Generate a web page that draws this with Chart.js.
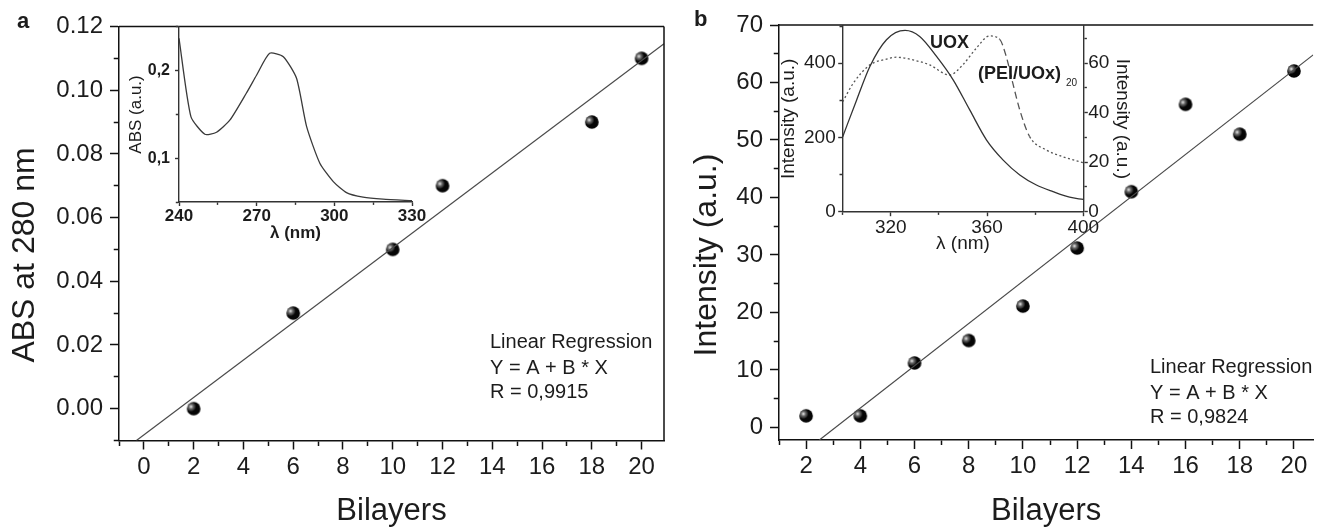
<!DOCTYPE html>
<html>
<head>
<meta charset="utf-8">
<title>UOX bilayers</title>
<script src="https://cdn.jsdelivr.net/npm/chart.js@4.4.0/dist/chart.umd.min.js"></script>
<style>
  html, body { margin: 0; padding: 0; background: #fff; overflow: hidden; }
  #wrap { position: relative; width: 1321px; height: 528px; }
  #wrap canvas { position: absolute; left: 0; top: 0; }
</style>
</head>
<body>
<div id="wrap">
  <canvas id="mainA" width="1321" height="528"></canvas>
  <canvas id="insetA" width="1321" height="528"></canvas>
  <canvas id="mainB" width="1321" height="528"></canvas>
  <canvas id="insetB" width="1321" height="528"></canvas>
</div>
<script>
// ---- panel a : ABS at 280 nm vs bilayers
const bilayersA = [2, 6, 10, 12, 18, 20];
const absA = [0.000, 0.030, 0.050, 0.070, 0.090, 0.110];
const fitAx = [-0.3, 20.9];
const fitAy = [-0.010, 0.1146];
const xLabelsA = [0, 2, 4, 6, 8, 10, 12, 14, 16, 18, 20];
const yLabelsA = [0.00, 0.02, 0.04, 0.06, 0.08, 0.10, 0.12];

// inset a : absorption spectrum
const lambdaA = [240, 244.6, 250, 254.5, 259.7, 266, 270, 275, 280.3, 285.4, 289.3, 294.4, 299.6, 304.7, 311.1, 318.8, 330];
const specA = [0.237, 0.1475, 0.1274, 0.1297, 0.1437, 0.1742, 0.1951, 0.2199, 0.216, 0.1913, 0.1361, 0.0943, 0.0733, 0.0607, 0.0555, 0.0532, 0.0516];
const insetAxLabels = [240, 270, 300, 330];
const insetAyLabels = [0.1, 0.2];

// ---- panel b : intensity vs bilayers
const bilayersB = [2, 4, 6, 8, 10, 12, 14, 16, 18, 20];
const intB = [2.0, 2.0, 11.2, 15.1, 21.1, 31.2, 41.0, 56.2, 51.0, 62.0];
const fitBx = [2.49, 20.71];
const fitBy = [-2.2, 64.8];
const xLabelsB = [2, 4, 6, 8, 10, 12, 14, 16, 18, 20];
const yLabelsB = [0, 10, 20, 30, 40, 50, 60, 70];

// inset b : emission spectra
const lambdaUox = [300, 305.8, 311.3, 318.2, 325.9, 332, 339, 345.9, 352.8, 359.8, 366.7, 373.6, 380.5, 387.4, 394.3, 400];
const uox = [202, 301, 391, 463, 488, 472, 418, 355, 274, 193, 139, 99, 72, 54, 39, 33];
const lambdaPei = [300, 304.4, 311.3, 318.2, 322.3, 329.2, 336.1, 344.4, 349.9, 355.5, 361, 365.2, 368, 370.7, 373.6, 377.7, 384.7, 391.5, 400];
const pei = [44.4, 51.9, 59.3, 61.6, 62.4, 61.3, 59.3, 55.2, 59.3, 66, 71, 69.7, 62.6, 51.9, 41.1, 30.3, 24.9, 22.2, 19.8];
const insetBxLabels = [320, 360, 400];
const insetByLabels = [0, 200, 400];
const insetBy2Labels = [0, 20, 40, 60];

const FONT = '"Liberation Sans", Arial, Helvetica, sans-serif';
const INK = '#1c1c1c';

function pts(xs, ys) {
  return xs.map((x, i) => ({ x: x, y: ys[i] }));
}
function has(list, v) {
  return list.some(t => Math.abs(t - v) < 1e-9);
}

// black shaded ball used as marker
function makeBall(r) {
  const c = document.createElement('canvas');
  c.width = c.height = Math.ceil(2 * r + 2);
  const g = c.getContext('2d');
  const m = c.width / 2;
  g.beginPath();
  g.arc(m, m, r, 0, Math.PI * 2);
  g.fillStyle = '#050505';
  g.fill();
  const hx = m - r * 0.4, hy = m - r * 0.3;
  const grad = g.createRadialGradient(hx, hy, 0, hx, hy, r * 0.75);
  grad.addColorStop(0, 'rgba(255,255,255,0.95)');
  grad.addColorStop(0.5, 'rgba(200,200,200,0.45)');
  grad.addColorStop(1, 'rgba(255,255,255,0)');
  g.beginPath();
  g.arc(m, m, r, 0, Math.PI * 2);
  g.fillStyle = grad;
  g.fill();
  return c;
}
const ball = makeBall(6.8);

// minor ticks are drawn shorter through a dash pattern
function tickDash(side, tl, minor, axisW) {
  if (side === 'left') return [0, Math.max(tl - axisW / 2 - minor, 0), minor, 0];
  return [minor, 100];
}

function linearAxis(o) {
  return {
    type: 'linear',
    position: o.position,
    min: o.min,
    max: o.max,
    afterFit: s => {
      if (o.position === 'left' || o.position === 'right') s.width = o.size;
      else s.height = o.size;
    },
    ticks: {
      stepSize: o.step,
      autoSkip: false,
      maxRotation: 0,
      includeBounds: false,
      padding: o.pad,
      color: INK,
      font: { family: FONT, size: o.fontSize, weight: o.bold ? 'bold' : 'normal' },
      callback: v => has(o.labels, v) ? o.fmt(v) : ''
    },
    grid: {
      drawOnChartArea: false,
      tickLength: o.tl,
      tickWidth: o.axisW,
      tickColor: o.color,
      tickBorderDash: c => (c.tick && has(o.labels.concat(o.majors || []), c.tick.value)) ? [] : tickDash(o.position, o.tl, o.minor, o.axisW)
    },
    border: { color: o.color, width: o.axisW },
    title: o.title ? {
      display: true,
      text: o.title,
      color: INK,
      font: { family: FONT, size: o.titleSize, weight: o.titleBold ? 'bold' : 'normal', lineHeight: 1 },
      padding: o.titlePad
    } : { display: false }
  };
}

const framePlugin = {
  id: 'frame',
  afterDraw(chart, args, opts) {
    if (!opts.show) return;
    const ctx = chart.ctx;
    const a = chart.chartArea;
    ctx.save();
    ctx.strokeStyle = '#111';
    ctx.lineWidth = 1.5;
    ctx.beginPath();
    ctx.moveTo(a.left, a.top);
    ctx.lineTo(a.right, a.top);
    if (opts.right) {
      ctx.moveTo(a.right, a.top);
      ctx.lineTo(a.right, a.bottom);
    }
    ctx.stroke();
    ctx.restore();
  }
};

const notesPlugin = {
  id: 'notes',
  afterDraw(chart, args, opts) {
    const ctx = chart.ctx;
    (opts.items || []).forEach(n => {
      ctx.save();
      ctx.font = n.font;
      ctx.fillStyle = INK;
      ctx.textAlign = n.align || 'left';
      ctx.textBaseline = n.baseline || 'alphabetic';
      ctx.translate(n.x, n.y);
      if (n.rotate) ctx.rotate(n.rotate);
      ctx.fillText(n.text, 0, 0);
      ctx.restore();
    });
  }
};

const common = {
  responsive: false,
  animation: false,
  events: [],
  plugins: { legend: { display: false }, tooltip: { enabled: false } }
};

// ---------- main chart a
new Chart(document.getElementById('mainA'), {
  type: 'scatter',
  data: {
    datasets: [
      { data: pts(fitAx, fitAy), showLine: true, borderColor: '#4a4a4a', borderWidth: 1.2, pointRadius: 0 },
      { data: pts(bilayersA, absA), pointStyle: ball, pointRadius: 6.8 }
    ]
  },
  options: {
    ...common,
    layout: { padding: { left: 0, top: 26.5, right: 657, bottom: 0 } },
    plugins: {
      ...common.plugins,
      frame: { show: true, right: true },
      notes: { items: [
        { text: 'a', x: 17, y: 28, font: 'bold 22px ' + FONT },
        { text: 'ABS at 280 nm', x: 25, y: 255, font: '32px ' + FONT, align: 'center', baseline: 'middle', rotate: -Math.PI / 2 },
        { text: 'Linear Regression', x: 490, y: 348.3, font: '20px ' + FONT },
        { text: 'Y = A + B * X', x: 490, y: 374, font: '20px ' + FONT },
        { text: 'R = 0,9915', x: 490, y: 398.3, font: '20px ' + FONT }
      ] }
    },
    scales: {
      x: linearAxis({ position: 'bottom', min: -1, max: 20.9, step: 1, size: 87.5, pad: 3, fontSize: 24, labels: xLabelsA,
        fmt: v => String(v), tl: 9, minor: 4.5, axisW: 1.5, color: '#111',
        title: 'Bilayers', titleSize: 31, titlePad: { top: 0, bottom: 1.5 } }),
      y: linearAxis({ position: 'left', min: -0.01, max: 0.12, step: 0.01, size: 119, pad: 7, fontSize: 24, labels: yLabelsA,
        fmt: v => v.toFixed(2), tl: 9, minor: 4.5, axisW: 1.5, color: '#111' })
    }
  },
  plugins: [framePlugin, notesPlugin]
});

// ---------- inset a
new Chart(document.getElementById('insetA'), {
  type: 'scatter',
  data: {
    datasets: [
      { data: pts(lambdaA, specA), showLine: true, borderColor: '#3a3a3a', borderWidth: 1.3, pointRadius: 0, tension: 0.2 }
    ]
  },
  options: {
    ...common,
    layout: { padding: { left: 119, top: 26.9, right: 909, bottom: 286 } },
    scales: {
      x: linearAxis({ position: 'bottom', min: 240, max: 330, step: 15, size: 40, pad: 0, fontSize: 17, bold: true, labels: insetAxLabels,
        fmt: v => String(v), tl: 4, minor: 2.5, axisW: 1.4, color: '#333',
        title: 'λ (nm)', titleSize: 17, titleBold: true, titlePad: { top: 0, bottom: 0.5 } }),
      y: linearAxis({ position: 'left', min: 0.05, max: 0.25, step: 0.05, size: 60, pad: 5, fontSize: 16, bold: true, labels: insetAyLabels,
        fmt: v => v.toFixed(1).replace('.', ','), tl: 4, minor: 2.5, axisW: 1.4, color: '#333',
        title: 'ABS (a.u.)', titleSize: 17, titlePad: { top: 8.5, bottom: 0 } })
    }
  }
});

// ---------- main chart b
new Chart(document.getElementById('mainB'), {
  type: 'scatter',
  data: {
    datasets: [
      { data: pts(fitBx, fitBy), showLine: true, borderColor: '#4a4a4a', borderWidth: 1.2, pointRadius: 0 },
      { data: pts(bilayersB, intB), pointStyle: ball, pointRadius: 6.8 }
    ]
  },
  options: {
    ...common,
    layout: { padding: { left: 660, top: 25, right: 0, bottom: 0 } },
    plugins: {
      ...common.plugins,
      frame: { show: true, right: false },
      notes: { items: [
        { text: 'b', x: 694, y: 26, font: 'bold 22px ' + FONT },
        { text: 'Intensity (a.u.)', x: 707, y: 255, font: '32px ' + FONT, align: 'center', baseline: 'middle', rotate: -Math.PI / 2 },
        { text: 'Linear Regression', x: 1150, y: 373.3, font: '20px ' + FONT },
        { text: 'Y = A + B * X', x: 1150, y: 399, font: '20px ' + FONT },
        { text: 'R = 0,9824', x: 1150, y: 423.3, font: '20px ' + FONT }
      ] }
    },
    scales: {
      x: linearAxis({ position: 'bottom', min: 1, max: 20.71, step: 1, size: 88, pad: 3, fontSize: 24, labels: xLabelsB,
        fmt: v => String(v), tl: 9, minor: 4.5, axisW: 1.5, color: '#111',
        title: 'Bilayers', titleSize: 31, titlePad: { top: 0, bottom: 1.5 } }),
      y: linearAxis({ position: 'left', min: -2.2, max: 70, step: 5, size: 119, pad: 7, fontSize: 24, labels: yLabelsB,
        fmt: v => String(v), tl: 9, minor: 4.5, axisW: 1.5, color: '#111' })
    }
  },
  plugins: [framePlugin, notesPlugin]
});

// ---------- inset b
new Chart(document.getElementById('insetB'), {
  type: 'scatter',
  data: {
    datasets: [
      { data: pts(lambdaUox, uox), yAxisID: 'y', showLine: true, borderColor: '#333', borderWidth: 1.3, pointRadius: 0,
        tension: 0.4, cubicInterpolationMode: 'monotone' },
      { data: pts(lambdaPei, pei), yAxisID: 'y2', showLine: true, borderColor: '#555', borderWidth: 1.3, pointRadius: 0,
        tension: 0.4, cubicInterpolationMode: 'monotone',
        segment: { borderDash: c => (c.p0.parsed.x >= 365 && c.p1.parsed.x <= 378) ? [7, 4] : [2, 2.5] } }
    ]
  },
  options: {
    ...common,
    layout: { padding: { left: 772.7, top: 26, right: 187.7, bottom: 271.3 } },
    plugins: {
      ...common.plugins,
      notes: { items: [
        { text: 'UOX', x: 930, y: 48.3, font: 'bold 18px ' + FONT },
        { text: '(PEI/UOx)', x: 978, y: 79, font: 'bold 18px ' + FONT },
        { text: '20', x: 1066, y: 86, font: '10px ' + FONT }
      ] }
    },
    scales: {
      x: linearAxis({ position: 'bottom', min: 300, max: 400, step: 20, size: 45, pad: 0, fontSize: 19, labels: insetBxLabels,
        fmt: v => String(v), tl: 4.5, minor: 2.5, axisW: 1.4, color: '#333',
        title: 'λ (nm)', titleSize: 19, titlePad: { top: 0, bottom: 3.2 } }),
      y: linearAxis({ position: 'left', min: 0, max: 500, step: 100, size: 70, pad: 2.5, fontSize: 19, labels: insetByLabels,
        fmt: v => String(v), tl: 4.5, minor: 2.5, axisW: 1.4, color: '#333',
        title: 'Intensity (a.u.)', titleSize: 19, titlePad: { top: 6.8, bottom: 0 } }),
      y2: linearAxis({ position: 'right', min: 0, max: 75, step: 10, size: 50, pad: 0.5, fontSize: 19, labels: insetBy2Labels,
        fmt: v => String(v), tl: 4.5, minor: 2.5, axisW: 1.4, color: '#333',
        title: 'Intensity (a.u.)', titleSize: 19, titlePad: { top: 1.8, bottom: 0 } })
    }
  },
  plugins: [notesPlugin]
});
</script>
</body>
</html>
